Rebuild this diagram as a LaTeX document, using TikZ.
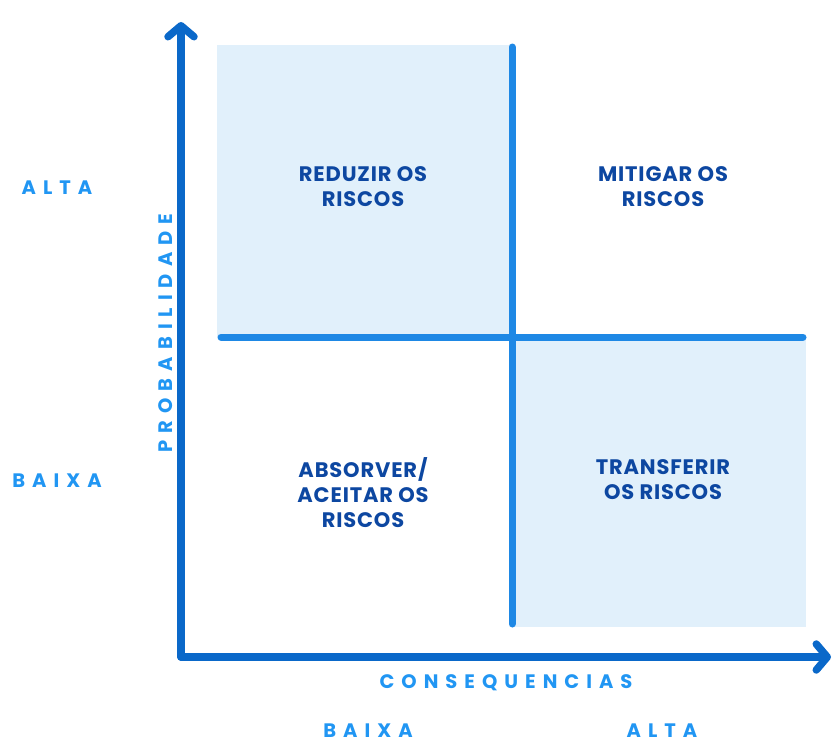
\documentclass[tikz,border=0pt]{standalone}
\usepackage{fontspec}
\setmainfont{Poppins}
\usetikzlibrary{arrows.meta}
\newfontfamily\spacedfont[LetterSpace=36]{Poppins}
\newfontfamily\quadfont[LetterSpace=4]{Poppins}
\definecolor{axisblue}{HTML}{0A68C9}
\definecolor{crossblue}{HTML}{1E88E5}
\definecolor{cellblue}{HTML}{E1F0FB}
\definecolor{textblue}{HTML}{0D47A1}
\definecolor{labelblue}{HTML}{2196F3}
\tikzset{
  axisline/.style={color=axisblue, line width=7.5, line cap=round, line join=round},
  crossline/.style={color=crossblue, line width=7, line cap=round},
  quadtext/.style={text=textblue, font=\fontsize{21}{25}\quadfont\bfseries, align=center},
  axislabel/.style={text=labelblue, inner sep=1pt, font=\fontsize{19.5}{22}\spacedfont\bfseries}
}
\begin{document}
\begin{tikzpicture}[x=1pt, y=-1pt]

  % Bounding box of the scheme
  \useasboundingbox (0,0) rectangle (836,744);

  %%%%%%%%%%%%%%%%%%%%%%%%%%%%%%%%% Fond des quadrants %%%%%%%%%%%%%%%%%%%%%%%%%%%%%%%%%%%%
  \fill[cellblue] (217,45) rectangle (512,337);
  \fill[cellblue] (512,337) rectangle (806,627);

  %%%%%%%%%%%%%%%%%%%%%%%%%%%%%%%%% Points pour travailler %%%%%%%%%%%%%%%%%%%%%%%%%%%%%%%%%%%%
  \coordinate (O) at (181,657);
  \coordinate (Ytop) at (181,22);
  \coordinate (Xend) at (831,657);

  \coordinate (Vtop) at (512,47);
  \coordinate (Vbot) at (512,624);
  \coordinate (Hleft) at (221,337);
  \coordinate (Hright) at (803,337);

  %%%%%%%%%%%%%%%%%%%%%%%%%%%%%%%%%%%% Croix centrale %%%%%%%%%%%%%%%%%%%%%%%%%%%%%%%%%%%%%
  \draw[crossline] (Vtop) -- (Vbot);
  \draw[crossline] (Hleft) -- (Hright);

  %%%%%%%%%%%%%%%%%%%%%%%%%%%%%%%%%%%% Axes %%%%%%%%%%%%%%%%%%%%%%%%%%%%%%%%%%%%%
  \draw[axisline, -{Straight Barb[round, length=11pt, width=26pt]}] (O) -- (Ytop);
  \draw[axisline, -{Straight Barb[round, length=11pt, width=26pt]}] (O) -- (Xend);

  %%%%%%%%%%%%%%%%%%%%%%%%%%%%%%%%%%%% Quadrants %%%%%%%%%%%%%%%%%%%%%%%%%%%%%%%%%%%%%
  \node[quadtext] (reduzir) at (363,187) {REDUZIR OS\\RISCOS};
  \node[quadtext] (mitigar) at (663,187) {MITIGAR OS\\RISCOS};
  \node[quadtext] (absorver) at (363,493) {ABSORVER/\\ACEITAR OS\\RISCOS};
  \node[quadtext] (transferir) at (663,480) {TRANSFERIR\\OS RISCOS};

  %%%%%%%%%%%%%%%%%%%%%%%%%%%%%%%%%%%% Etiquettes des axes %%%%%%%%%%%%%%%%%%%%%%%%%%%%%%%%%%%%%
  \node[axislabel, rotate=90] (prob) at (166,333) {PROBABILIDADE};
  \node[axislabel] (cons) at (506,683) {CONSEQUENCIAS};

  \node[axislabel] (yalta) at (57,188) {ALTA};
  \node[axislabel] (ybaixa) at (57,481) {BAIXA};
  \node[axislabel] (xbaixa) at (368,731) {BAIXA};
  \node[axislabel] (xalta) at (662,731) {ALTA};

\end{tikzpicture}
\end{document}
